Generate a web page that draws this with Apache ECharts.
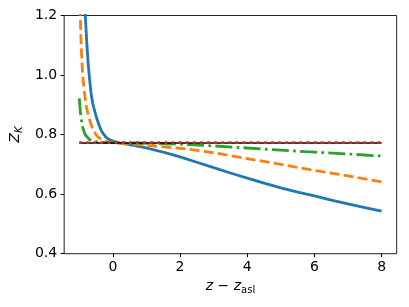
<!DOCTYPE html>
<html>
<head>
<meta charset="utf-8">
<script src="https://cdn.jsdelivr.net/npm/echarts@6/dist/echarts.min.js"></script>
<style>
html,body{margin:0;padding:0;background:#fff;}
#chart{width:409px;height:307px;}
</style>
</head>
<body>
<div id="chart"></div>
<script>
// Tick labels
const xTicks = [0, 2, 4, 6, 8];
const yTicks = [0.4, 0.6, 0.8, 1.0, 1.2];

// Blue solid curve
const blueX = [-0.86, -0.82, -0.78, -0.74, -0.70, -0.65, -0.60, -0.55, -0.50, -0.45, -0.40, -0.35, -0.30, -0.20, -0.10, 0.0, 0.2, 0.5, 1.0, 1.5, 2.0, 2.5, 3.0, 3.5, 4.0, 4.5, 5.0, 5.5, 6.0, 6.5, 7.0, 7.5, 8.0];
const blueY = [1.26, 1.20, 1.115, 1.045, 0.994, 0.940, 0.905, 0.883, 0.862, 0.845, 0.829, 0.815, 0.805, 0.791, 0.783, 0.778, 0.772, 0.766, 0.755, 0.741, 0.725, 0.707, 0.689, 0.671, 0.654, 0.637, 0.621, 0.607, 0.594, 0.580, 0.567, 0.555, 0.543];

// Orange dashed curve
const orangeX = [-1.0, -0.97, -0.94, -0.90, -0.85, -0.80, -0.77, -0.70, -0.60, -0.50, -0.40, -0.30, -0.20, 0.0, 0.5, 1.0, 1.5, 2.0, 2.5, 3.0, 3.5, 4.0, 4.5, 5.0, 5.5, 6.0, 6.5, 7.0, 7.5, 8.0];
const orangeY = [1.28, 1.20, 1.09, 1.00, 0.945, 0.902, 0.883, 0.852, 0.818, 0.799, 0.788, 0.781, 0.777, 0.773, 0.769, 0.764, 0.759, 0.754, 0.747, 0.739, 0.729, 0.719, 0.710, 0.700, 0.690, 0.680, 0.671, 0.661, 0.651, 0.641];

// Green dash-dot curve
const greenX = [-1.0, -0.97, -0.95, -0.90, -0.85, -0.80, -0.70, -0.60, -0.50, -0.30, 0.0, 1.0, 2.0, 3.0, 4.0, 5.0, 6.0, 7.0, 8.0];
const greenY = [0.922, 0.880, 0.857, 0.826, 0.807, 0.796, 0.784, 0.779, 0.776, 0.774, 0.773, 0.771, 0.768, 0.762, 0.755, 0.748, 0.741, 0.735, 0.728];

// Horizontal reference lines
const blackX = [-1.0, 8.0];
const blackY = [0.772, 0.772];
const redX = [-1.0, 8.0];
const redY = [0.773, 0.773];

const pairs = (xs, ys) => xs.map((x, i) => [x, ys[i]]);

const chart = echarts.init(document.getElementById('chart'), null, {renderer: 'canvas'});
const font = 'DejaVu Sans';
const richName = {
  i: {fontFamily: font, fontStyle: 'italic', fontSize: 14, color: '#000'},
  n: {fontFamily: font, fontSize: 14, color: '#000'},
  sub: {fontFamily: font, fontSize: 10, color: '#000', verticalAlign: 'bottom', padding: [8, 0, 0, 0]},
  isub: {fontFamily: font, fontStyle: 'italic', fontSize: 10, color: '#000', verticalAlign: 'bottom', padding: [8, 0, 0, 0]}
};
const lineBase = {type: 'line', showSymbol: false, symbol: 'none', smooth: false, animation: false, clip: true};

chart.setOption({
  animation: false,
  backgroundColor: '#fff',
  grid: {left: 63.5, right: 12.3, top: 15.5, bottom: 53.3, show: true, borderColor: '#222', borderWidth: 1, backgroundColor: 'transparent'},
  xAxis: {
    type: 'value', min: -1.45, max: 8.45,
    axisLine: {show: false, onZero: false},
    splitLine: {show: false},
    axisTick: {show: true, length: 3.5, lineStyle: {color: '#000', width: 1}, customValues: xTicks},
    axisLabel: {fontFamily: font, fontSize: 14, color: '#000', margin: 7, customValues: xTicks},
    name: '{i|z}{n| − }{i|z}{sub|asl}',
    nameLocation: 'middle', nameGap: 24,
    nameTextStyle: {rich: richName}
  },
  yAxis: {
    type: 'value', min: 0.4, max: 1.2, interval: 0.2,
    axisLine: {show: false, onZero: false},
    splitLine: {show: false},
    axisTick: {show: true, length: 3.5, lineStyle: {color: '#000', width: 1}},
    axisLabel: {fontFamily: font, fontSize: 14, color: '#000', margin: 7, formatter: v => v.toFixed(1)},
    name: '{i|Z}{isub|K}',
    nameLocation: 'middle', nameGap: 38, nameRotate: 90,
    nameTextStyle: {rich: richName}
  },
  series: [
    Object.assign({}, lineBase, {data: pairs(blueX, blueY), lineStyle: {color: '#1f77b4', width: 2.8, join: 'round'}, z: 2}),
    Object.assign({}, lineBase, {data: pairs(orangeX, orangeY), lineStyle: {color: '#ff7f0e', width: 2.8, type: [9.9, 4.3], cap: 'butt', join: 'round'}, z: 3}),
    Object.assign({}, lineBase, {data: pairs(greenX, greenY), lineStyle: {color: '#2ca02c', width: 2.8, type: [17, 4.3, 2.7, 4.3], cap: 'butt', join: 'round'}, z: 4}),
    Object.assign({}, lineBase, {data: pairs(blackX, blackY), lineStyle: {color: '#000', width: 1.5}, z: 5}),
    Object.assign({}, lineBase, {data: pairs(redX, redY), lineStyle: {color: '#d62728', width: 2.8, type: [2.7, 4.4], cap: 'butt'}, z: 6})
  ]
});
</script>
</body>
</html>
